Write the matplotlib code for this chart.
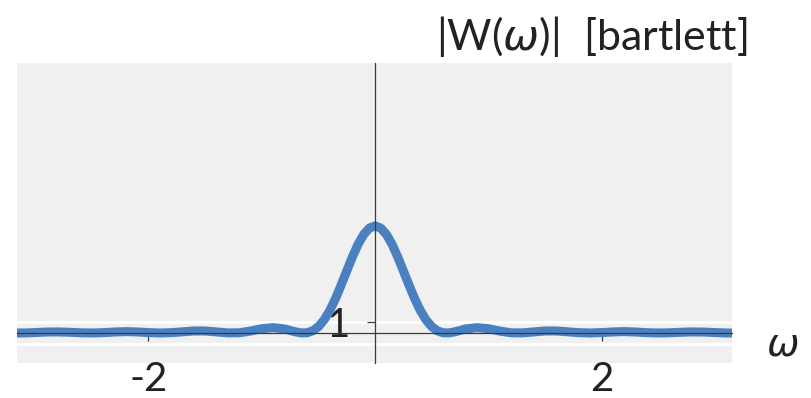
import matplotlib
matplotlib.use("Agg")
import matplotlib.pyplot as plt

# angular frequency samples
omega = [-3.16, -3.1, -3.0, -2.9, -2.8, -2.7, -2.6, -2.5, -2.4, -2.3, -2.2, -2.1,
         -2.0, -1.9, -1.8, -1.7, -1.6, -1.5, -1.4, -1.3, -1.2, -1.1, -1.0, -0.9,
         -0.8, -0.7, -0.65, -0.6, -0.55, -0.5, -0.45, -0.4, -0.35, -0.3, -0.25,
         -0.2, -0.15, -0.1, -0.05, 0.0, 0.05, 0.1, 0.15, 0.2, 0.25, 0.3, 0.35,
         0.4, 0.45, 0.5, 0.55, 0.6, 0.65, 0.7, 0.8, 0.9, 1.0, 1.1, 1.2, 1.3, 1.4,
         1.5, 1.6, 1.7, 1.8, 1.9, 2.0, 2.1, 2.2, 2.3, 2.4, 2.5, 2.6, 2.7, 2.8,
         2.9, 3.0, 3.1, 3.16]
# |W(omega)| magnitude values
magnitude = [0.0, 0.0, 0.04, 0.09, 0.1, 0.07, 0.02, 0.0, 0.03, 0.09, 0.13, 0.1,
             0.04, 0.0, 0.03, 0.11, 0.19, 0.19, 0.1, 0.01, 0.02, 0.18, 0.4, 0.5,
             0.38, 0.1, 0.01, 0.02, 0.2, 0.59, 1.22, 2.09, 3.19, 4.46, 5.79,
             7.1, 8.28, 9.2, 9.79, 10.0, 9.79, 9.2, 8.28, 7.1, 5.79, 4.46, 3.19,
             2.09, 1.22, 0.59, 0.2, 0.02, 0.01, 0.1, 0.38, 0.5, 0.4, 0.18, 0.02,
             0.01, 0.1, 0.19, 0.19, 0.11, 0.03, 0.0, 0.04, 0.1, 0.13, 0.09, 0.03,
             0.0, 0.02, 0.07, 0.1, 0.09, 0.04, 0.0, 0.0]

xticks = [-2, 2]
xticklabels = ["-2", "2"]
yticks = [1]
yticklabels = ["1"]
ygrid_minor = [-1]

plt.rcParams['font.family'] = ['Lato', 'DejaVu Sans']

fig = plt.figure(figsize=(8.11, 3.98), dpi=100)
ax = fig.add_axes([17/811, 35/398, 715/811, 300/398])
ax.set_facecolor('#f0f0f0')

ax.plot(omega, magnitude, color='#4a7fc0', lw=6.5, solid_capstyle='butt', zorder=2)

ax.set_xlim(-3.16, 3.15)
ax.set_ylim(-2.8, 25.2)

for s in ['top', 'right']:
    ax.spines[s].set_visible(False)
for s in ['left', 'bottom']:
    ax.spines[s].set_position('zero')
    ax.spines[s].set_color('#3a3a3a')
    ax.spines[s].set_linewidth(0.9)
    ax.spines[s].set_zorder(3)

ax.set_xticks(xticks)
ax.set_xticklabels(xticklabels)
ax.set_yticks(yticks)
ax.set_yticklabels(yticklabels)
ax.set_yticks(ygrid_minor, minor=True)
ax.tick_params(axis='x', direction='out', length=6, width=0.9, color='#3a3a3a',
               labelsize=29, pad=14, labelcolor='#222222')
ax.tick_params(axis='y', direction='out', length=6, width=0.9, color='#3a3a3a',
               labelsize=29, pad=12, labelcolor='#222222')
ax.tick_params(axis='y', which='minor', length=0)
ax.grid(False)
ax.yaxis.grid(True, which='both', color='white', lw=2.0, zorder=1)
ax.set_axisbelow(True)

fig.text(748/811, 1 - 50/398, r"|W($\omega$)|  [bartlett]", ha='right', va='baseline',
         fontsize=31, color='#222222')
fig.text(782/811, 1 - 355/398, r"$\omega$", ha='center', va='baseline',
         fontsize=28, color='#222222')

fig.savefig("out.png", dpi=100, facecolor='white')
